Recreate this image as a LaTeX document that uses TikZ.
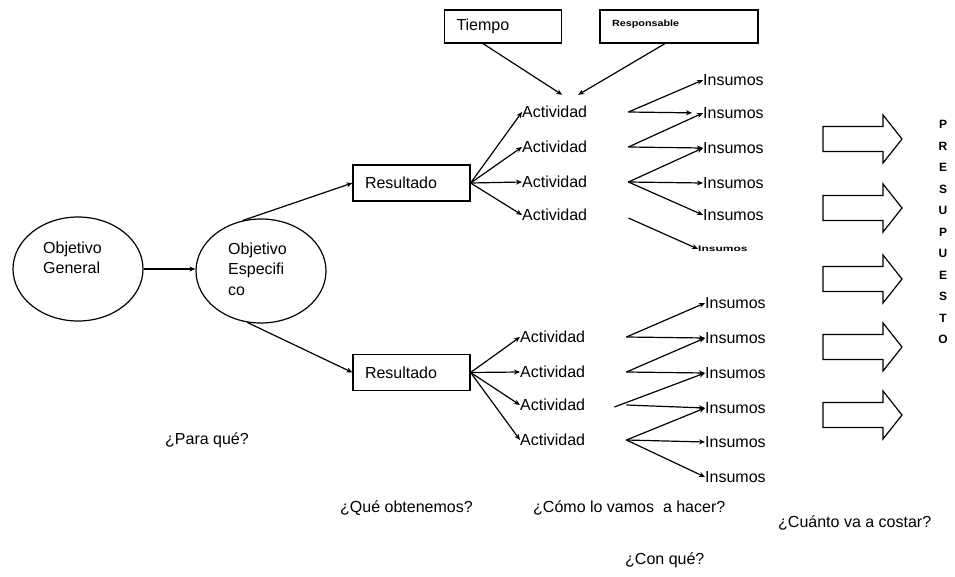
\documentclass[tikz,border=0pt]{standalone}
\usepackage{fontspec}
\setmainfont{Liberation Sans}
\usetikzlibrary{shapes.geometric, arrows.meta, positioning, calc}

\begin{document}
\begin{tikzpicture}[
    x=1pt, y=-1pt,
    every node/.style={font=\fontsize{16}{20.5}\selectfont},
    arrow/.style={-{Stealth[length=6pt,width=5pt]}, line width=1.2pt},
    line/.style={line width=1.2pt},
    oval/.style={ellipse, draw, line width=1.2pt, minimum width=130, minimum height=104},
    box/.style={rectangle, draw, line width=1.2pt, minimum height=36, inner xsep=12, text width=93, align=left},
    label/.style={anchor=west, align=left, inner sep=0},
    act/.style={anchor=west, inner sep=0, text width=106, align=left, text height=11, text depth=1},
    ins/.style={anchor=west, inner sep=0, text height=11, text depth=1},
    blockarrow/.style={draw, line width=1.2pt}
]
\useasboundingbox (0,0) rectangle (955,576);

% Objetivos
\node[oval] (og) at (78,269) {};
\node[oval] (oe) at (261,271) {};
\node[label] (ogtext) at (43,258) {Objetivo\\General};
\node[label] (oetext) at (228,269) {Objetivo\\Especifi\\co};

% Resultados
\node[box] (res1) at (411.5,183) {Resultado};
\node[box] (res2) at (411.5,372.5) {Resultado};

% Tiempo y responsable
\node[box, minimum height=33] (tiempo) at (503,26.5) {Tiempo};
\node[box, minimum height=33, text width=134, text height=6, text depth=6] (resp) at (679,26.5)
    {\fontsize{9}{10}\selectfont\bfseries\scalebox{1.2}[1]{Responsable}};

% Actividades
\node[act] (a1) at (522,112) {Actividad};
\node[act] (a2) at (522,147) {Actividad};
\node[act] (a3) at (522,182) {Actividad};
\node[act] (a4) at (522,215) {Actividad};
\node[act] (b1) at (520,337) {Actividad};
\node[act] (b2) at (520,372) {Actividad};
\node[act] (b3) at (520,405) {Actividad};
\node[act] (b4) at (520,440) {Actividad};

% Insumos
\node[ins] (i1) at (703,80) {Insumos};
\node[ins] (i2) at (703,113) {Insumos};
\node[ins] (i3) at (703,148) {Insumos};
\node[ins] (i4) at (703,183) {Insumos};
\node[ins] (i5) at (703,215) {Insumos};
\node[ins, text height=5] (i6) at (698,249) {\fontsize{8}{9}\selectfont\bfseries\scalebox{1.5}[1]{Insumos}};
\node[ins] (j1) at (705,303) {Insumos};
\node[ins] (j2) at (705,338) {Insumos};
\node[ins] (j3) at (705,373) {Insumos};
\node[ins] (j4) at (705,408) {Insumos};
\node[ins] (j5) at (705,442) {Insumos};
\node[ins] (j6) at (705,477) {Insumos};

% Presupuesto
\node[font=\fontsize{12}{21.5}\selectfont\bfseries, align=center, inner sep=0] (presu) at (943,232)
    {P\\R\\E\\S\\U\\P\\U\\E\\S\\T\\O};
\foreach \y in {139,208,279,347,415}
    \draw[blockarrow] (823,{\y-12.5}) -- (883,{\y-12.5}) -- (883,{\y-24}) -- (902,\y)
        -- (883,{\y+24}) -- (883,{\y+12.5}) -- (823,{\y+12.5}) -- cycle;

% Preguntas
\node[label] (q1) at (165,440) {¿Para qué?};
\node[label] (q2) at (340,508) {¿Qué obtenemos?};
\node[label] (q3) at (533,508) {¿Cómo lo vamos~ a hacer?};
\node[label] (q4) at (778,523) {¿Cuánto va a costar?};
\node[label] (q5) at (625,560) {¿Con qué?};

% Flechas objetivos
\draw[arrow] (og.east) -- (og.east -| oe.west);
\draw[arrow] (oe.110) -- (res1.west);
\draw[arrow] (oe.255) -- (res2.west);

% Flechas a actividades
\foreach \a in {a1,a2,a3,a4}
    \draw[arrow] (res1.east) -- (\a.west);
\foreach \b in {b1,b2,b3,b4}
    \draw[arrow] (res2.east) -- (\b.west);

% Tiempo y responsable
\draw[arrow] ($(tiempo.south)+(-20,0)$) -- ($(a1.north)+(-13,-11)$);
\draw[arrow] ($(resp.south)+(-14,0)$) -- ($(a1.north)+(3,-11)$);

% Flechas a insumos (arriba)
\draw[arrow] (a1.east) -- (i1.west);
\draw[arrow, shorten >=11pt] (a1.east) -- (i2.west);
\draw[arrow] (a2.east) -- (i2.west);
\draw[arrow] (a2.east) -- (i3.west);
\draw[arrow] (a3.east) -- (i3.west);
\draw[arrow] (a3.east) -- (i4.west);
\draw[arrow] (a3.east) -- (i5.west);
\draw[arrow] ($(a4.east)+(0,3)$) -- (i6.west);

% Flechas a insumos (abajo)
\draw[arrow] (b1.east) -- (j1.west);
\draw[arrow] (b1.east) -- (j2.west);
\draw[arrow] (b2.east) -- (j2.west);
\draw[arrow] (b2.east) -- (j3.west);
\draw[arrow] ($(b3.east)+(-12,2)$) -- (j3.west);
\draw[arrow] (b3.east) -- (j4.west);
\draw[arrow] (b4.east) -- (j4.west);
\draw[arrow] (b4.east) -- (j5.west);
\draw[arrow] (b4.east) -- (j6.west);

\end{tikzpicture}
\end{document}
